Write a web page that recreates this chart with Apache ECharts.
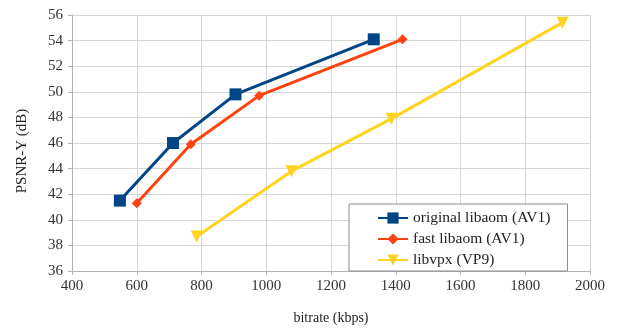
<!DOCTYPE html>
<html>
<head>
<meta charset="utf-8">
<script src="https://cdn.jsdelivr.net/npm/echarts@6/dist/echarts.min.js"></script>
<style>
  html, body { margin: 0; padding: 0; background: #fff; }
  #chart { width: 618px; height: 330px; }
</style>
</head>
<body>
<div id="chart"></div>
<script>
// bitrate (kbps) / PSNR-Y (dB) pairs
let originalBitrate = [548, 712, 905, 1332]
let originalPsnr = [41.5, 46.0, 49.8, 54.1]
let fastBitrate = [600, 767, 978, 1421]
let fastPsnr = [41.3, 45.9, 49.7, 54.1]
let vpxBitrate = [785, 1078, 1387, 1915]
let vpxPsnr = [38.7, 43.8, 47.9, 55.4]

let seriesNames = ['original libaom (AV1)', 'fast libaom (AV1)', 'libvpx (VP9)']
let colors = ['#004586', '#ff420e', '#ffd320']

function pairs(xs, ys) {
  return xs.map(function (x, i) { return [x, ys[i]] })
}

let font = '"Liberation Serif", "DejaVu Serif", serif'
let gridColor = '#d6d6d6'
let axisColor = '#b3b3b3'

let chart = echarts.init(document.getElementById('chart'))

chart.setOption({
  animation: false,
  textStyle: { fontFamily: font },
  color: colors,
  grid: { left: 72, right: 28, top: 15, bottom: 55 },
  legend: {
    orient: 'vertical',
    left: 349,
    top: 204,
    data: seriesNames,
    backgroundColor: '#fff',
    borderColor: '#8c8c8c',
    borderWidth: 1,
    padding: [6, 17, 3, 28],
    itemGap: 5,
    itemWidth: 30,
    itemHeight: 14,
    textStyle: { fontFamily: font, fontSize: 15.5, color: '#222' }
  },
  xAxis: {
    type: 'value',
    min: 400,
    max: 2000,
    interval: 200,
    name: 'bitrate (kbps)',
    nameLocation: 'middle',
    nameGap: 40,
    nameTextStyle: { fontFamily: font, fontSize: 14, color: '#222' },
    axisLine: { show: true, lineStyle: { color: axisColor } },
    axisTick: { show: true, length: 4, lineStyle: { color: axisColor } },
    axisLabel: {
      margin: 8, fontFamily: font, fontSize: 15, color: '#333',
      formatter: function (v) { return String(v) }
    },
    splitLine: { show: true, lineStyle: { color: gridColor } }
  },
  yAxis: {
    type: 'value',
    min: 36,
    max: 56,
    interval: 2,
    name: 'PSNR-Y (dB)',
    nameLocation: 'middle',
    nameGap: 42,
    nameTextStyle: { fontFamily: font, fontSize: 15, color: '#222', padding: [0, 16, 0, 0] },
    axisLine: { show: true, lineStyle: { color: axisColor } },
    axisTick: { show: true, length: 4, lineStyle: { color: axisColor } },
    axisLabel: { margin: 9, fontFamily: font, fontSize: 15, color: '#333' },
    splitLine: { show: true, lineStyle: { color: gridColor } }
  },
  series: [
    {
      name: seriesNames[0],
      type: 'line',
      data: pairs(originalBitrate, originalPsnr),
      symbol: 'rect',
      symbolSize: 12,
      lineStyle: { width: 3 },
      itemStyle: { color: colors[0] }
    },
    {
      name: seriesNames[1],
      type: 'line',
      data: pairs(fastBitrate, fastPsnr),
      symbol: 'diamond',
      symbolSize: 10,
      lineStyle: { width: 3 },
      itemStyle: { color: colors[1] }
    },
    {
      name: seriesNames[2],
      type: 'line',
      data: pairs(vpxBitrate, vpxPsnr),
      symbol: 'triangle',
      symbolRotate: 180,
      symbolSize: 12,
      lineStyle: { width: 3 },
      itemStyle: { color: colors[2] }
    }
  ]
})
</script>
</body>
</html>
